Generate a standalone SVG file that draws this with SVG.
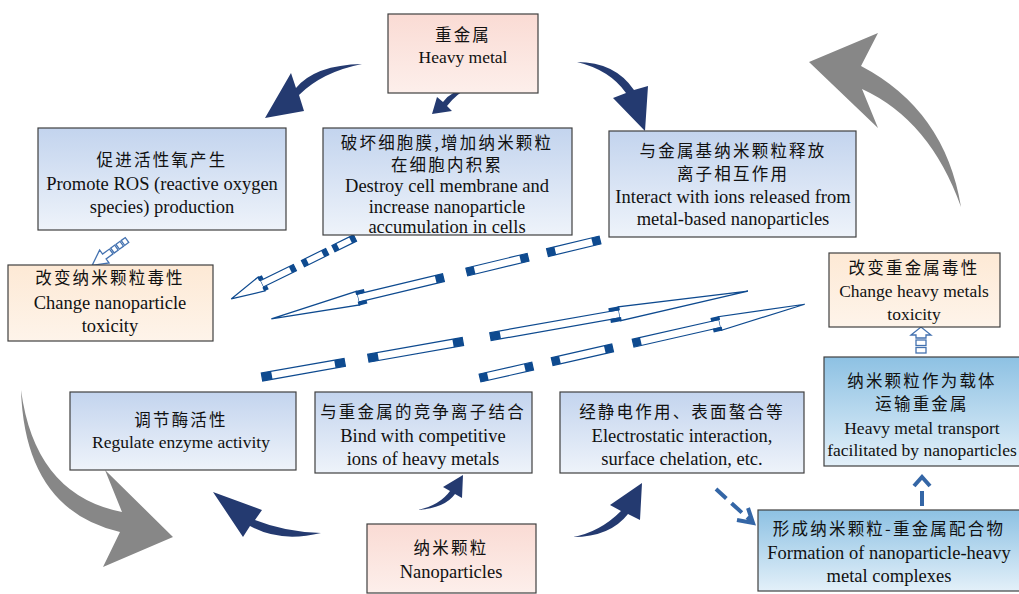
<svg xmlns="http://www.w3.org/2000/svg" width="1019" height="594" viewBox="0 0 1019 594">
<defs>
<linearGradient id="gBlue" x1="0" y1="0" x2="0" y2="1"><stop offset="0" stop-color="#c3d4ee"/><stop offset="1" stop-color="#eef3fa"/></linearGradient>
<linearGradient id="gDeep" x1="0" y1="0" x2="0" y2="1"><stop offset="0" stop-color="#8dc1e3"/><stop offset="1" stop-color="#e3f0f9"/></linearGradient>
<linearGradient id="gPink" x1="0" y1="0" x2="0" y2="1"><stop offset="0" stop-color="#fadbd4"/><stop offset="1" stop-color="#fdefeb"/></linearGradient>
<linearGradient id="gOrange" x1="0" y1="0" x2="0" y2="1"><stop offset="0" stop-color="#fde9d5"/><stop offset="1" stop-color="#fef4ea"/></linearGradient>
</defs>
<style>
.box{stroke:#404040;stroke-width:1.2}
.t{font-family:"Liberation Serif","Noto Sans CJK SC",serif;font-size:18.5px;fill:#111;text-anchor:middle}
.ts{font-size:17.5px}
.c{font-family:"Noto Sans CJK SC",sans-serif;font-size:16.5px;fill:#111;text-anchor:middle;letter-spacing:2.2px}
.navy{fill:#243a70}
.gray{fill:#878787}
.seg{fill:#fff;stroke:#0e4a8f;stroke-width:1.2}
.cap{fill:#0e4a8f}
.dash{stroke:#3466a6;stroke-width:4;fill:none}
.hollow{fill:#fff;stroke:#4472b0;stroke-width:1.3}
</style>

<g id="connectors">
  <path class="gray" d="M809,62 L878,33 L861,66 Q945,110 961,207 Q930,120 862,89 L878,128 Z"/>
  <path class="gray" d="M173,537 L103,567 L120,532 Q25,510 21,390 Q35,495 122,512 L105,470 Z"/>
  <path class="navy" d="M265,118 L291,73 L296,88 Q315,65 362,64 Q322,72 299,95 L304,111 Z"/>
  <path class="navy" d="M432,114 L437,97 L443,102 Q452,90 470,87 Q456,94 447,106 L452,111 Z"/>
  <path class="navy" d="M645,131 L613,98 L626,93 Q610,70 577,62 Q615,62 634,90 L648,86 Z"/>
  <path class="navy" d="M213,492 L243,537 L250,526 Q280,543 321,533 Q285,532 255,520 L262,510 Z"/>
  <path class="navy" d="M463,475 L443,487 L450,491 Q440,505 418,510 Q445,508 455,494 L462,498 Z"/>
  <path class="navy" d="M642,483 L610,505 L621,511 Q600,532 573,537 Q610,537 628,514 L640,520 Z"/>
  <line class="dash" x1="716" y1="489" x2="751" y2="521" stroke-dasharray="14 7"/>
  <polyline class="dash" points="737,520 753,523 748,508" stroke-width="3.5"/>
  <line class="dash" x1="922" y1="491" x2="922" y2="506"/>
  <polyline class="dash" points="914,486 922,477 930,486" stroke-width="3.5"/>
  <g>
    <path class="hollow" d="M911,335 L921,327 L931,335 L926,335 L926,338 L916,338 L916,335 Z"/>
    <rect class="hollow" x="916" y="340" width="10" height="5.5"/>
    <rect class="hollow" x="916" y="347.5" width="10" height="5.5"/>
  </g>
  <g transform="translate(127,240) rotate(144)">
    <rect class="hollow" x="0" y="-3" width="5" height="6"/>
    <rect class="hollow" x="6.5" y="-3" width="5" height="6"/>
    <rect class="hollow" x="13" y="-3" width="5" height="6"/>
    <path class="hollow" d="M19.5,-3 L28,-3 L28,-8 L43,0 L28,8 L28,3 L19.5,3 Z"/>
  </g>
  <g transform="translate(355,238) rotate(153.8)">
    <rect class="seg" x="0" y="-3.5" width="24" height="7"/><rect class="cap" x="0" y="-3.5" width="5" height="7"/><rect class="cap" x="19" y="-3.5" width="5" height="7"/>
    <rect class="seg" x="31" y="-3.5" width="27" height="7"/><rect class="cap" x="31" y="-3.5" width="5" height="7"/><rect class="cap" x="53" y="-3.5" width="5" height="7"/>
    <rect class="seg" x="67" y="-3.5" width="37" height="7"/><rect class="cap" x="67" y="-3.5" width="5" height="7"/>
    <path class="seg" d="M104,-3.5 L104,-7.8 L138,0 L104,7.8 L104,3.5"/>
    <rect class="cap" x="100" y="-7.8" width="5" height="4"/><rect class="cap" x="100" y="3.8" width="5" height="4"/>
  </g>
  <g transform="translate(600,240) rotate(166.5)">
    <rect class="seg" x="0" y="-4" width="54" height="8"/><rect class="cap" x="0" y="-4" width="8" height="8"/><rect class="cap" x="46" y="-4" width="8" height="8"/>
    <rect class="seg" x="74" y="-4" width="63" height="8"/><rect class="cap" x="74" y="-4" width="8" height="8"/><rect class="cap" x="129" y="-4" width="8" height="8"/>
    <rect class="seg" x="161" y="-4" width="88" height="8"/><rect class="cap" x="161" y="-4" width="8" height="8"/>
    <path class="seg" d="M249,-4 L249,-7 L338,0 L249,7 L249,4"/>
    <rect class="cap" x="241" y="-7.5" width="9" height="4"/><rect class="cap" x="241" y="3.5" width="9" height="4"/>
  </g>
  <g transform="translate(262,377) rotate(-10.03)">
    <rect class="seg" x="0" y="-4" width="84" height="8"/><rect class="cap" x="0" y="-4" width="10" height="8"/><rect class="cap" x="74" y="-4" width="10" height="8"/>
    <rect class="seg" x="108" y="-4" width="96" height="8"/><rect class="cap" x="108" y="-4" width="10" height="8"/><rect class="cap" x="194" y="-4" width="10" height="8"/>
    <rect class="seg" x="232" y="-4" width="131" height="8"/><rect class="cap" x="232" y="-4" width="10" height="8"/>
    <path class="seg" d="M363,-4 L363,-7 L493.5,0 L363,7 L363,4"/>
    <rect class="cap" x="353" y="-7.5" width="11" height="4"/><rect class="cap" x="353" y="3.5" width="11" height="4"/>
  </g>
  <g transform="translate(480,378) rotate(-12.8)">
    <rect class="seg" x="0" y="-4" width="54" height="8"/><rect class="cap" x="0" y="-4" width="8" height="8"/><rect class="cap" x="46" y="-4" width="8" height="8"/>
    <rect class="seg" x="74" y="-4" width="62" height="8"/><rect class="cap" x="74" y="-4" width="8" height="8"/><rect class="cap" x="128" y="-4" width="8" height="8"/>
    <rect class="seg" x="157" y="-4" width="89" height="8"/><rect class="cap" x="157" y="-4" width="8" height="8"/>
    <path class="seg" d="M246,-4 L246,-7 L333,0 L246,7 L246,4"/>
    <rect class="cap" x="238" y="-7.5" width="9" height="4"/><rect class="cap" x="238" y="3.5" width="9" height="4"/>
  </g>
</g>

<g id="heavy-metal">
  <rect class="box" x="388" y="14" width="150" height="79" fill="url(#gPink)"/>
  <text class="c" x="463" y="41">重金属</text>
  <text class="t ts" x="463" y="63">Heavy metal</text>
</g>
<g id="promote-ros">
  <rect class="box" x="38" y="128" width="248" height="102" fill="url(#gBlue)"/>
  <text class="c" x="162" y="166">促进活性氧产生</text>
  <text class="t" x="162" y="190">Promote ROS (reactive oxygen</text>
  <text class="t" x="162" y="213">species) production</text>
</g>
<g id="destroy-membrane">
  <rect class="box" x="323" y="128" width="249" height="107" fill="url(#gBlue)"/>
  <text class="c" x="447" y="149">破坏细胞膜,增加纳米颗粒</text>
  <text class="c" x="447" y="171">在细胞内积累</text>
  <text class="t" x="447" y="192">Destroy cell membrane and</text>
  <text class="t" x="447" y="213">increase nanoparticle</text>
  <text class="t" x="447" y="233">accumulation in cells</text>
</g>
<g id="interact-ions">
  <rect class="box" x="609" y="131" width="247" height="106" fill="url(#gBlue)"/>
  <text class="c" x="733" y="157">与金属基纳米颗粒释放</text>
  <text class="c" x="733" y="180">离子相互作用</text>
  <text class="t" x="733" y="203">Interact with ions released from</text>
  <text class="t" x="733" y="225">metal-based nanoparticles</text>
</g>
<g id="change-np-toxicity">
  <rect class="box" x="8" y="265" width="205" height="76" fill="url(#gOrange)"/>
  <text class="c" x="110" y="284">改变纳米颗粒毒性</text>
  <text class="t" x="110" y="309">Change nanoparticle</text>
  <text class="t" x="110" y="332">toxicity</text>
</g>
<g id="change-hm-toxicity">
  <rect class="box" x="829" y="253" width="171" height="74" fill="url(#gOrange)"/>
  <text class="c" x="914" y="274">改变重金属毒性</text>
  <text class="t ts" x="914" y="297">Change heavy metals</text>
  <text class="t ts" x="914" y="320">toxicity</text>
</g>
<g id="regulate-enzyme">
  <rect class="box" x="70" y="392" width="226" height="78" fill="url(#gBlue)"/>
  <text class="c" x="181" y="426">调节酶活性</text>
  <text class="t ts" x="181" y="448">Regulate enzyme activity</text>
</g>
<g id="bind-ions">
  <rect class="box" x="315" y="392" width="217" height="81" fill="url(#gBlue)"/>
  <text class="c" x="423" y="418">与重金属的竞争离子结合</text>
  <text class="t" x="423" y="442">Bind with competitive</text>
  <text class="t" x="423" y="465">ions of heavy metals</text>
</g>
<g id="electrostatic">
  <rect class="box" x="560" y="392" width="244" height="81" fill="url(#gBlue)"/>
  <text class="c" x="682" y="418">经静电作用、表面螯合等</text>
  <text class="t" x="682" y="442">Electrostatic interaction,</text>
  <text class="t" x="682" y="465">surface chelation, etc.</text>
</g>
<g id="carrier">
  <rect class="box" x="824" y="357" width="200" height="109" fill="url(#gDeep)"/>
  <text class="c" x="922" y="387">纳米颗粒作为载体</text>
  <text class="c" x="922" y="410">运输重金属</text>
  <text class="t ts" x="922" y="434">Heavy metal transport</text>
  <text class="t ts" x="922" y="456">facilitated by nanoparticles</text>
</g>
<g id="complex-formation">
  <rect class="box" x="758" y="510" width="266" height="81" fill="url(#gDeep)"/>
  <text class="c" x="889" y="535">形成纳米颗粒-重金属配合物</text>
  <text class="t" x="889" y="559">Formation of nanoparticle-heavy</text>
  <text class="t" x="889" y="582">metal complexes</text>
</g>
<g id="nanoparticles">
  <rect class="box" x="367" y="524" width="169" height="69" fill="url(#gPink)"/>
  <text class="c" x="451" y="554">纳米颗粒</text>
  <text class="t" x="451" y="578">Nanoparticles</text>
</g>
</svg>
